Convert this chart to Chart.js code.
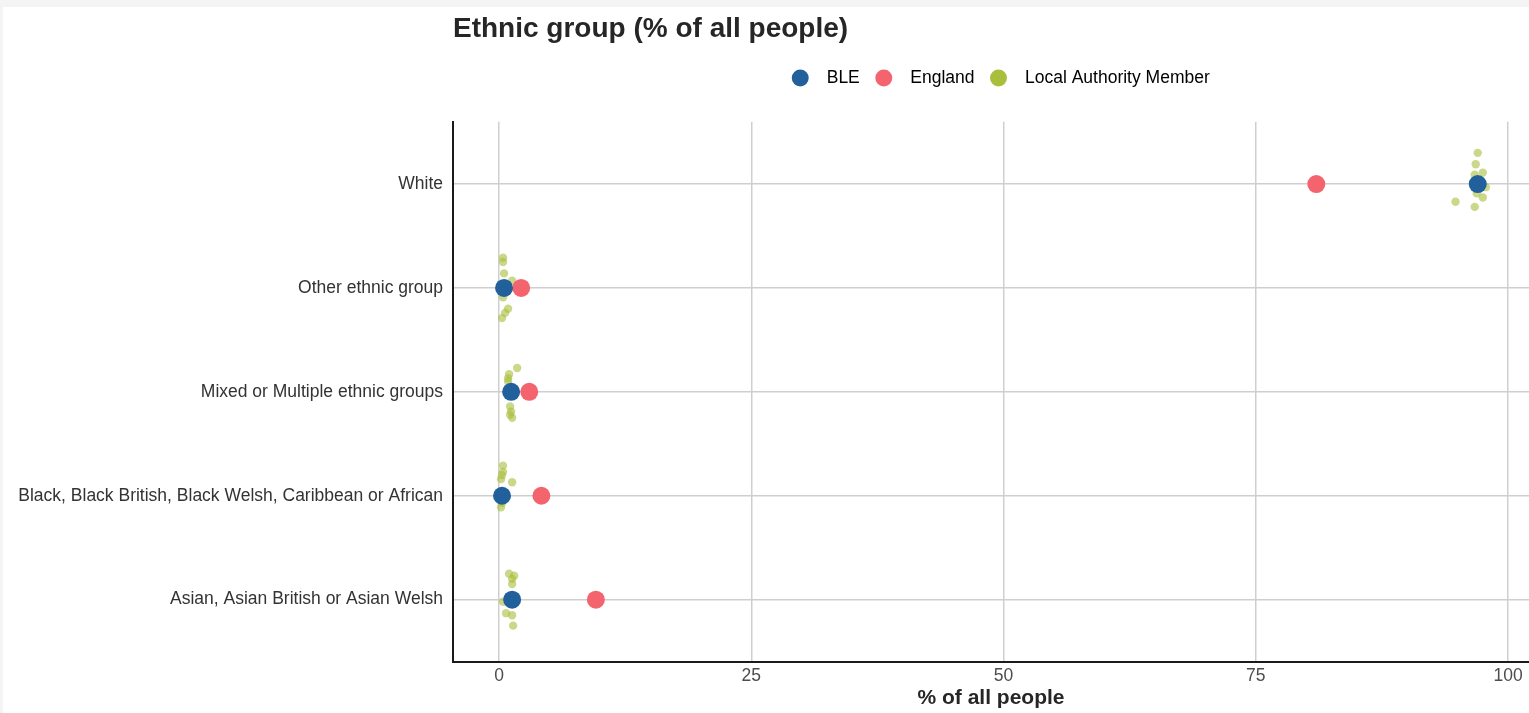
<!DOCTYPE html>
<html>
<head>
<meta charset="utf-8">
<title>Ethnic group (% of all people)</title>
<script src="https://cdn.jsdelivr.net/npm/chart.js@4/dist/chart.umd.min.js"></script>
<style>
    body { margin: 0; background: #f4f4f4; }
    #wrap { position: absolute; left: 3px; top: 7px; width: 1526px; height: 706px; background: #fff; }
</style>
</head>
<body>
<div id="wrap"><canvas id="ethnicChart"></canvas></div>
<script>
// categories, top to bottom as in the picture
const categories = [
    'White',
    'Other ethnic group',
    'Mixed or Multiple ethnic groups',
    'Black, Black British, Black Welsh, Caribbean or African',
    'Asian, Asian British or Asian Welsh'
];
const bleValues = [97.0, 0.5, 1.2, 0.3, 1.3];
const englandValues = [81.0, 2.2, 3.0, 4.2, 9.6];

// local authority members, one list per category
const laMemberValues = [
    [97.0, 96.8, 96.7, 97.5, 97.8, 96.9, 97.5, 94.8, 96.7],
    [0.4, 0.4, 0.5, 1.3, 0.4, 0.9, 0.6, 0.3],
    [1.8, 1.0, 0.9, 0.9, 1.1, 1.2, 1.1, 1.3],
    [0.4, 0.4, 0.3, 0.2, 1.3, 0.3, 0.2],
    [1.0, 1.5, 1.3, 1.3, 0.4, 0.7, 1.3, 1.4]
];
// vertical jitter of those points (in category units)
const laMemberJitter = [
    [0.30, 0.19, 0.09, 0.11, -0.03, -0.09, -0.13, -0.17, -0.22],
    [0.29, 0.25, 0.14, 0.07, -0.09, -0.20, -0.24, -0.29],
    [0.23, 0.17, 0.13, 0.10, -0.14, -0.19, -0.22, -0.25],
    [0.29, 0.23, 0.20, 0.16, 0.13, -0.07, -0.11],
    [0.25, 0.23, 0.20, 0.15, -0.02, -0.13, -0.15, -0.25]
];
const xTicks = [0, 25, 50, 75, 100];

const FONT = '"Liberation Sans", Arial, sans-serif';
const COLORS = { ble: '#21609b', england: '#f4646e', la: '#a9be3b' };

const catY = (i) => categories.length - i;

const blePoints = bleValues.map((v, i) => ({ x: v, y: catY(i) }));
const englandPoints = englandValues.map((v, i) => ({ x: v, y: catY(i) }));
const laPoints = [];
laMemberValues.forEach((list, i) => {
    list.forEach((v, j) => laPoints.push({ x: v, y: catY(i) + laMemberJitter[i][j] }));
});

// push the plot area down below the legend, nudge legend a bit right
const legendTweak = {
    id: 'legendTweak',
    beforeInit(chart) {
        const legend = chart.legend;
        const origFit = legend.fit;
        legend.fit = function () {
            origFit.call(this);
            this.height += 26;
        };
        const origDraw = legend.draw;
        legend.draw = function () {
            const ctx = this.ctx;
            ctx.save();
            ctx.translate(10, 1);
            origDraw.call(this);
            ctx.restore();
        };
    }
};

const legendColors = [COLORS.ble, COLORS.england, COLORS.la];

new Chart(document.getElementById('ethnicChart'), {
    type: 'scatter',
    data: {
        datasets: [
            {
                label: 'BLE',
                data: blePoints,
                backgroundColor: COLORS.ble,
                pointRadius: 9,
                borderWidth: 0
            },
            {
                label: 'England',
                data: englandPoints,
                backgroundColor: COLORS.england,
                pointRadius: 9,
                borderWidth: 0
            },
            {
                label: 'Local Authority Member',
                data: laPoints,
                backgroundColor: 'rgba(169, 190, 59, 0.6)',
                pointRadius: 4.2,
                borderWidth: 0
            }
        ]
    },
    options: {
        responsive: true,
        maintainAspectRatio: false,
        animation: false,
        layout: { padding: 0, autoPadding: false },
        plugins: {
            title: {
                display: true,
                text: 'Ethnic group (% of all people)',
                align: 'start',
                fullSize: false,
                color: '#262626',
                font: { family: FONT, size: 28, weight: 'bold' },
                padding: { top: 5, bottom: 6.6 }
            },
            legend: {
                position: 'top',
                fullSize: false,
                labels: {
                    usePointStyle: true,
                    boxWidth: 16,
                    boxHeight: 12,
                    padding: 16,
                    color: '#383838',
                    font: { family: FONT, size: 17.5 },
                    generateLabels: (chart) => chart.data.datasets.map((ds, i) => ({
                        text: '  ' + ds.label,
                        fillStyle: legendColors[i],
                        strokeStyle: legendColors[i],
                        lineWidth: 0,
                        pointStyle: 'circle',
                        datasetIndex: i,
                        hidden: false
                    }))
                }
            },
            tooltip: { enabled: false }
        },
        scales: {
            x: {
                type: 'linear',
                min: -4.56,
                max: 102.08,
                afterBuildTicks: (scale) => { scale.ticks = xTicks.map(v => ({ value: v })); },
                afterFit: (scale) => {
                    scale.height = 51;
                    scale.paddingLeft = 0;
                    scale.paddingRight = 0;
                },
                grid: { color: '#cfcfcf', lineWidth: 1.5, drawTicks: false },
                border: { display: true, color: '#1a1a1a', width: 2 },
                ticks: {
                    padding: 4,
                    color: '#4d4d4d',
                    font: { family: FONT, size: 17.5 },
                    maxRotation: 0
                },
                title: {
                    display: true,
                    text: '% of all people',
                    color: '#262626',
                    font: { family: FONT, size: 21, weight: 'bold' },
                    padding: { top: 0, bottom: 2.4 }
                }
            },
            y: {
                type: 'linear',
                min: 0.4,
                max: 5.6,
                afterBuildTicks: (scale) => {
                    scale.ticks = categories.map((c, i) => ({ value: catY(i) }));
                },
                afterFit: (scale) => { scale.width = 450; },
                grid: { color: '#cfcfcf', lineWidth: 1.5, drawTicks: false },
                border: { display: true, color: '#1a1a1a', width: 2 },
                ticks: {
                    padding: 10,
                    color: '#333',
                    font: { family: FONT, size: 17.5 },
                    callback: (value) => categories[categories.length - value]
                }
            }
        }
    },
    plugins: [legendTweak]
});
</script>
</body>
</html>
